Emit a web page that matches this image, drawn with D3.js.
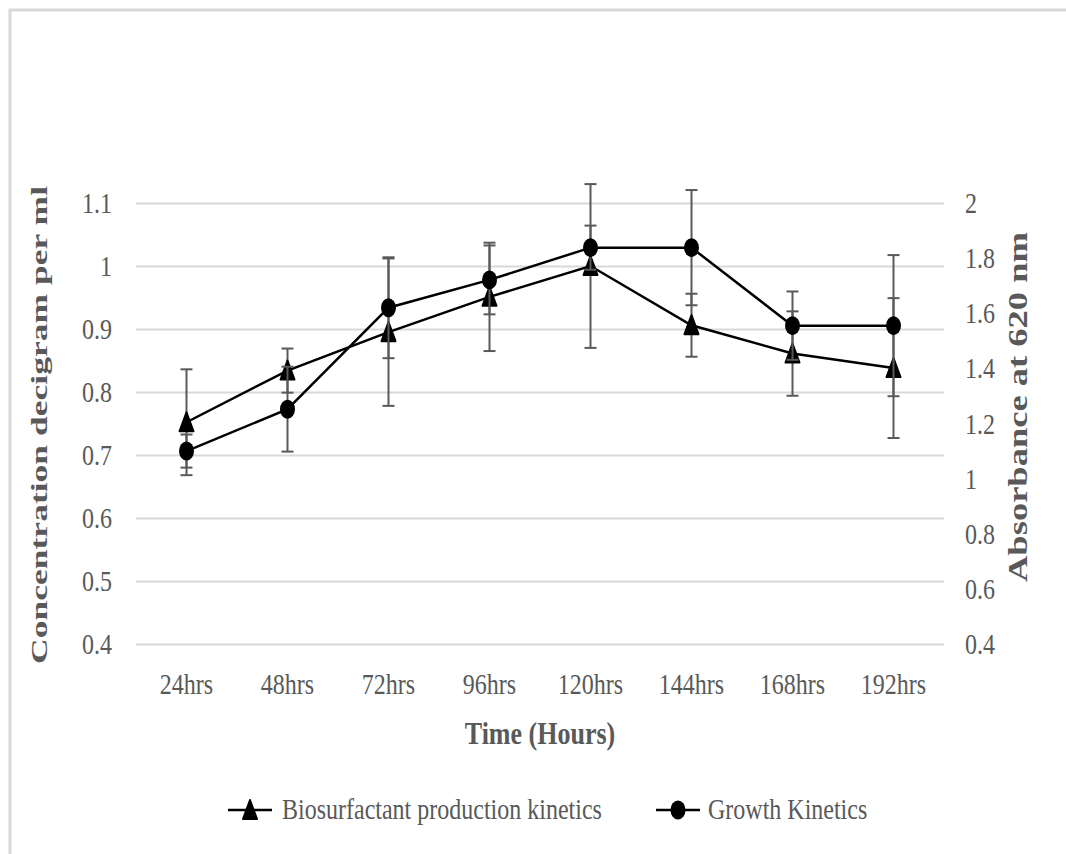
<!DOCTYPE html>
<html>
<head>
<meta charset="utf-8">
<script src="https://cdn.jsdelivr.net/npm/d3@7"></script>
<style>
  body { margin: 0; background: white; }
  text { font-family: "Liberation Serif", "Times New Roman", serif; }
</style>
</head>
<body>
<svg id="chart" width="1066" height="854"></svg>
<script>
// data
var categories = ["24hrs", "48hrs", "72hrs", "96hrs", "120hrs", "144hrs", "168hrs", "192hrs"];
var biosurfactant = [0.752, 0.834, 0.895, 0.951, 1.0, 0.906, 0.861, 0.838];
var biosurfactant_err = [0.084, 0.035, 0.117, 0.086, 0.13, 0.05, 0.067, 0.111];
var growth = [1.10, 1.252, 1.62, 1.721, 1.838, 1.838, 1.555, 1.555];
var growth_err = [0.06, 0.154, 0.183, 0.125, 0.08, 0.209, 0.124, 0.256];
var left_ticks = [0.4, 0.5, 0.6, 0.7, 0.8, 0.9, 1, 1.1];
var right_ticks = [0.4, 0.6, 0.8, 1, 1.2, 1.4, 1.6, 1.8, 2];

var grey = "#595959";
var grid = "#d9d9d9";
// the source picture is a bit taller than wide, text looks stretched
var stretch = 1.22;

var svg = d3.select("#chart");

// chart border (only top and left show in the picture)
svg.append("path").attr("d", "M10,854V10H1066")
  .attr("fill", "none").attr("stroke", grid).attr("stroke-width", 3);

var x = d3.scaleBand().domain(categories).range([136, 944]);
var yl = d3.scaleLinear().domain([0.4, 1.1]).range([644, 203]);
var yr = d3.scaleLinear().domain([0.4, 2]).range([644, 203]);
var cx = function(c) { return x(c) + x.bandwidth() / 2; };
var fmt = d3.format("~g");

function label(g, str, px, py, size, anchor, bold) {
  return g.append("text")
    .attr("transform", "translate(" + px + "," + py + ") scale(1," + stretch + ")")
    .attr("text-anchor", anchor).attr("font-size", size)
    .attr("font-weight", bold ? "bold" : "normal").attr("fill", grey)
    .text(str);
}

// gridlines from the left axis
var leftAxis = d3.axisLeft(yl).tickValues(left_ticks)
  .tickSize(-(944 - 136)).tickFormat("");
var gl = svg.append("g").attr("transform", "translate(136,0)").call(leftAxis);
gl.select(".domain").remove();
gl.selectAll(".tick line").attr("stroke", grid).attr("stroke-width", 2);

var labels = svg.append("g");
left_ticks.forEach(function(t) { label(labels, fmt(t), 112, yl(t) + 10, 24, "end"); });
right_ticks.forEach(function(t) { label(labels, fmt(t), 965, yr(t) + 10, 24, "start"); });
categories.forEach(function(c) { label(labels, c, cx(c), 694, 24, "middle"); });

// axis titles
label(svg, "Time (Hours)", 540, 744, 26, "middle", true);

svg.append("text").attr("transform", "translate(47,425) rotate(-90)")
  .attr("text-anchor", "middle").attr("font-size", 23).attr("font-weight", "bold")
  .attr("fill", grey).attr("textLength", 478).attr("lengthAdjust", "spacingAndGlyphs")
  .text("Concentration decigram per ml");

svg.append("text").attr("transform", "translate(1027,407) rotate(-90)")
  .attr("text-anchor", "middle").attr("font-size", 27).attr("font-weight", "bold")
  .attr("fill", grey).attr("textLength", 350).attr("lengthAdjust", "spacingAndGlyphs")
  .text("Absorbance at 620 nm");

// markers
function triangle(g, px, py) {
  g.append("path")
    .attr("d", "M" + px + "," + (py - 10) + "L" + (px + 7) + "," + (py + 9) + "L" + (px - 7) + "," + (py + 9) + "Z")
    .attr("fill", "black").attr("stroke", "black").attr("stroke-width", 2).attr("stroke-linejoin", "round");
}
function dot(g, px, py) {
  g.append("ellipse").attr("cx", px).attr("cy", py).attr("rx", 7.5).attr("ry", 9.5).attr("fill", "black");
}

function errbars(g, vals, errs, y) {
  categories.forEach(function(c, i) {
    var top = y(vals[i] + errs[i]), bot = y(vals[i] - errs[i]), px = cx(c);
    g.append("line").attr("x1", px).attr("x2", px).attr("y1", top).attr("y2", bot);
    g.append("line").attr("x1", px - 6).attr("x2", px + 6).attr("y1", top).attr("y2", top);
    g.append("line").attr("x1", px - 6).attr("x2", px + 6).attr("y1", bot).attr("y2", bot);
  });
  g.attr("stroke", grey).attr("stroke-width", 2);
}

var line_l = d3.line().x(function(d, i) { return cx(categories[i]); }).y(function(d) { return yl(d); });
var line_r = d3.line().x(function(d, i) { return cx(categories[i]); }).y(function(d) { return yr(d); });

// biosurfactant series (left axis)
errbars(svg.append("g"), biosurfactant, biosurfactant_err, yl);
svg.append("path").datum(biosurfactant).attr("d", line_l)
  .attr("fill", "none").attr("stroke", "black").attr("stroke-width", 2.5);
var tg = svg.append("g");
biosurfactant.forEach(function(v, i) { triangle(tg, cx(categories[i]), yl(v)); });

// growth series (right axis)
errbars(svg.append("g"), growth, growth_err, yr);
svg.append("path").datum(growth).attr("d", line_r)
  .attr("fill", "none").attr("stroke", "black").attr("stroke-width", 2.5);
var cg = svg.append("g");
growth.forEach(function(v, i) { dot(cg, cx(categories[i]), yr(v)); });

// legend
var leg = svg.append("g");
leg.append("line").attr("x1", 228).attr("x2", 272).attr("y1", 810).attr("y2", 810)
  .attr("stroke", "black").attr("stroke-width", 2.5);
triangle(leg, 250, 810);
label(leg, "Biosurfactant production kinetics", 282, 819, 24, "start");
leg.append("line").attr("x1", 656).attr("x2", 700).attr("y1", 810).attr("y2", 810)
  .attr("stroke", "black").attr("stroke-width", 2.5);
dot(leg, 678, 810);
label(leg, "Growth Kinetics", 708, 819, 24, "start");
</script>
</body>
</html>
